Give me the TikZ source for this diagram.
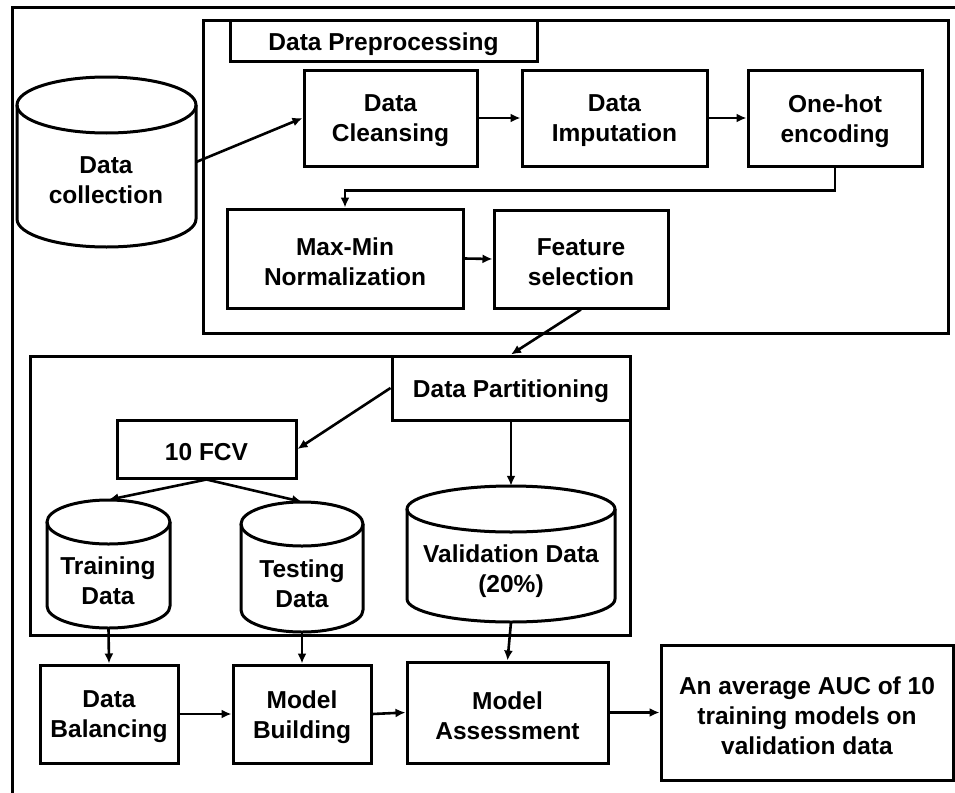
\documentclass[tikz,border=0pt]{standalone}
\usepackage{fontspec}
\setmainfont{Liberation Sans}
\usetikzlibrary{arrows.meta,fit}
\tikzset{
  line/.style={line width=3pt, line join=miter},
  box/.style={draw, line width=3pt, inner sep=0pt},
  area/.style={inner sep=0pt, draw=none},
  lbl/.style={align=center, font=\fontsize{24.5}{30}\selectfont\bfseries, inner sep=0pt, yshift=-3pt},
  arr/.style={line width=2.6pt, -{Latex[length=10pt,width=9pt]}},
}
\newcommand\drum[6]{% name x1 y1 x2 y2 ry
  \draw[line] ({#2+0.5*(#4-#2)},{#3+#6}) ellipse [x radius={0.5*(#4-#2)}, y radius=#6];
  \draw[line] (#2,{#3+#6}) -- (#2,{#5-#6}) arc[start angle=180, end angle=0, x radius={0.5*(#4-#2)}, y radius=#6] -- (#4,{#3+#6});
  \node[area, fit={(#2,#3) (#4,#5)}] (#1) {};
}
\newcommand\rbox[5]{% name x1 y1 x2 y2
  \node[box, fit={(#2,#3) (#4,#5)}] (#1) {};
}
\begin{document}
\begin{tikzpicture}[x=1pt,y=-1pt]
\useasboundingbox (0,0) rectangle (955,792);
\fill[white] (0,0) rectangle (955,792);
% outer frame (cut off at right and bottom)
\draw[line] (12,800) -- (12,8) -- (965,8);
% preprocessing frame
\draw[line] (203,21) rectangle (948,333);
\rbox{title}{230}{21}{537}{62}
\node[lbl] at (title.center) {Data Preprocessing};
% data collection
\drum{coll}{17}{77}{196}{247}{28}
\node[lbl] at (106,177) {Data\\collection};
% preprocessing steps
\rbox{clean}{304}{70}{477}{166}
\node[lbl] at (clean.center) {Data\\Cleansing};
\rbox{imput}{522}{70}{707}{166}
\node[lbl] at (imput.center) {Data\\Imputation};
\rbox{onehot}{748}{70}{922}{166}
\node[lbl] at (onehot.center) {One-hot\\encoding};
\rbox{maxmin}{227}{209}{463}{308}
\node[lbl] at (maxmin.center) {Max-Min\\Normalization};
\rbox{feat}{494}{210}{668}{308}
\node[lbl] at (feat.center) {Feature\\selection};
% partition frame
\draw[line] (30,356) rectangle (630,635);
\rbox{dpart}{392}{356}{630}{420}
\node[lbl] at (dpart.center) {Data Partitioning};
\rbox{fcv}{117}{420}{296}{478}
\node[lbl] at (fcv.center) {10 FCV};
\drum{train}{47}{500}{170}{628}{22}
\node[lbl] at (108,578) {Training\\Data};
\drum{test}{241}{502}{363}{632}{22}
\node[lbl] at (302,581) {Testing\\Data};
\drum{valid}{407}{486}{615}{622}{23}
\node[lbl] at (511,568) {Validation Data\\(20\%)};
% bottom row
\rbox{bal}{40}{665}{178}{763}
\node[lbl] at (bal.center) {Data\\Balancing};
\rbox{build}{233}{665}{371}{763}
\node[lbl] at (build.center) {Model\\Building};
\rbox{assess}{407}{662}{608}{763}
\node[lbl] at (assess.center) {Model\\Assessment};
\rbox{auc}{661}{645}{953}{780}
\node[lbl] at (auc.center) {An average AUC of 10\\training models on\\validation data};
% connectors
\draw[arr] (coll.east) -- (clean.west);
\draw[arr] (clean.east) -- (imput.west);
\draw[arr] (imput.east) -- (onehot.west);
\draw[arr] (onehot.south) -- ++(0,23) -| (maxmin.north);
\draw[arr] (maxmin.east) -- (feat.west);
\draw[arr] (feat.south) -- (dpart.north);
\draw[arr] (dpart.west) -- (fcv.east);
\draw[arr] (fcv.south) -- (train.north);
\draw[arr] (fcv.south) -- (test.north);
\draw[arr] (dpart.south) -- (valid.north);
\draw[arr] (train.south) -- (bal.north);
\draw[arr] (test.south) -- (build.north);
\draw[arr] (valid.south) -- (assess.north);
\draw[arr] (bal.east) -- (build.west);
\draw[arr] (build.east) -- (assess.west);
\draw[arr] (assess.east) -- (auc.west);
\end{tikzpicture}
\end{document}
